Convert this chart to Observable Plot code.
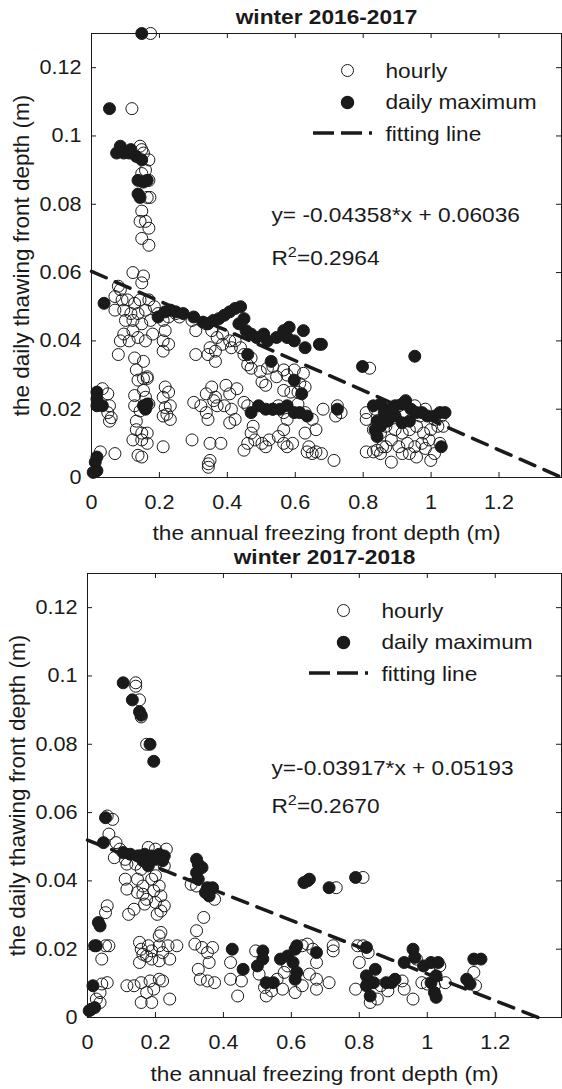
<!DOCTYPE html>
<html><head><meta charset="utf-8">
<script src="https://cdn.jsdelivr.net/npm/d3@7"></script>
<script src="https://cdn.jsdelivr.net/npm/@observablehq/plot@0.6"></script>
<style>body{margin:0;background:#fff} svg{display:block}</style>
</head><body><div id="chart"></div>
<script>
const xTicks = [0,0.2,0.4,0.6,0.8,1,1.2];
const xTickLabels = ["0","0.2","0.4","0.6","0.8","1","1.2"];
const yTicks = [0,0.02,0.04,0.06,0.08,0.1,0.12];
const yTickLabels = ["0","0.02","0.04","0.06","0.08","0.1","0.12"];
const titles = ["winter 2016-2017","winter 2017-2018"];
const xLabel = "the annual freezing front depth (m)";
const yLabel = "the daily thawing front depth (m)";
const legendLabels = ["hourly","daily maximum","fitting line"];
const slopes = [-0.04358,-0.03917];
const intercepts = [0.06036,0.05193];
const equations = ["y= -0.04358*x + 0.06036","y=-0.03917*x + 0.05193"];
const r2Labels = ["R²=0.2964","R²=0.2670"];
const fitXEnd = [1.385,1.326];
const xMax = [1.384,1.395];

const hourly1617 = [[0.174,0.130],[0.119,0.108],[0.143,0.097],[0.148,0.096],[0.153,0.095],[0.169,0.093],[0.159,0.090],[0.148,0.089],[0.169,0.087],[0.164,0.082],[0.172,0.082],[0.148,0.078],[0.143,0.075],[0.159,0.075],[0.169,0.073],[0.148,0.070],[0.169,0.068],[0.122,0.060],[0.153,0.059],[0.148,0.057],
[0.079,0.056],[0.085,0.055],[0.069,0.053],[0.090,0.052],[0.106,0.052],[0.127,0.051],[0.143,0.052],[0.169,0.052],[0.069,0.049],[0.095,0.049],[0.116,0.048],[0.137,0.048],[0.159,0.049],[0.185,0.050],[0.196,0.048],[0.100,0.046],[0.122,0.046],[0.148,0.045],[0.174,0.046],[0.095,0.042],[0.122,0.043],[0.137,0.041],[0.159,0.040],[0.180,0.042],[0.111,0.040],[0.085,0.040],[0.079,0.036],[0.127,0.035],[0.153,0.034],[0.132,0.0315],[0.153,0.029],[0.137,0.0285],[0.164,0.0295],
[0.211,0.046],[0.227,0.047],[0.248,0.048],[0.259,0.047],[0.217,0.043],[0.211,0.040],[0.227,0.039],[0.211,0.037],[0.296,0.046],[0.307,0.043],[0.307,0.036],
[0.338,0.045],[0.354,0.043],[0.370,0.041],[0.386,0.042],[0.349,0.038],[0.365,0.037],[0.343,0.036],[0.365,0.034],[0.386,0.039],[0.407,0.040],[0.423,0.040],[0.412,0.038],[0.439,0.038],[0.449,0.036],[0.460,0.033],[0.470,0.035],[0.470,0.032],[0.497,0.031],[0.518,0.032],[0.534,0.0325],[0.502,0.028],[0.513,0.027],[0.545,0.0295],[0.566,0.0315],[0.576,0.030],[0.597,0.0315],[0.624,0.0305],[0.613,0.0275],[0.566,0.0255],[0.587,0.025],[0.608,0.025],[0.629,0.0265],
[0.301,0.022],[0.322,0.021],[0.338,0.019],[0.343,0.017],[0.360,0.0225],[0.370,0.021],[0.354,0.0265],[0.338,0.0245],[0.365,0.0235],[0.396,0.027],[0.428,0.026],[0.407,0.0245],[0.391,0.021],[0.412,0.020],[0.423,0.017],[0.407,0.016],[0.449,0.022],[0.460,0.021],[0.476,0.015],[0.470,0.013],[0.460,0.010],[0.449,0.008],[0.481,0.011],[0.502,0.010],[0.523,0.011],[0.513,0.009],[0.534,0.020],[0.550,0.021],[0.566,0.019],[0.576,0.017],[0.566,0.014],[0.550,0.012],[0.566,0.010],[0.576,0.009],[0.592,0.010],[0.608,0.0215],[0.629,0.019],[0.650,0.017],[0.661,0.014],[0.629,0.013],[0.640,0.009],[0.635,0.0075],[0.650,0.007],[0.661,0.0075],[0.677,0.007],[0.714,0.005],[0.682,0.020],[0.719,0.018],[0.724,0.021],[0.735,0.019],[0.344,0.004],[0.344,0.003],[0.349,0.005],[0.296,0.011],[0.349,0.010],[0.381,0.010],[0.211,0.009],
[0.032,0.026],[0.048,0.0245],[0.053,0.021],[0.048,0.019],[0.053,0.0165],[0.058,0.0175],[0.026,0.0075],[0.069,0.007],[0.127,0.021],[0.132,0.0165],[0.132,0.014],[0.122,0.011],[0.148,0.013],[0.148,0.011],[0.164,0.013],[0.164,0.010],[0.137,0.0065],[0.148,0.006],[0.164,0.029],[0.153,0.0255],[0.159,0.0235],[0.169,0.0215],[0.143,0.0195],[0.217,0.0265],[0.227,0.025],[0.211,0.0235],[0.232,0.021],[0.217,0.0205],[0.211,0.018],[0.232,0.017],[0.222,0.0185],[0.127,0.024],
[0.809,0.019],[0.809,0.017],[0.809,0.0075],[0.841,0.008],[0.851,0.007],[0.867,0.009],[0.883,0.0045],[0.883,0.011],[0.905,0.009],[0.915,0.007],[0.930,0.010],[0.936,0.007],[0.952,0.009],[0.957,0.006],[0.973,0.010],[0.983,0.0085],[0.999,0.005],[0.994,0.011],[1.010,0.007],[1.026,0.010],[0.830,0.014],[0.851,0.013],[0.867,0.015],[0.894,0.014],[0.915,0.013],[0.936,0.014],[0.957,0.015],[0.978,0.013],[0.999,0.014],[1.020,0.015],[1.036,0.015],[0.883,0.018],[0.925,0.019],[0.967,0.018],[1.010,0.017],[1.030,0.018],[0.952,0.021],[0.983,0.020],[0.835,0.020],[0.905,0.021],[0.830,0.0075],[0.857,0.009],[0.819,0.032]];

const daily1617 = [[0.148,0.130],[0.053,0.108],[0.085,0.097],[0.095,0.095],[0.111,0.095],[0.132,0.094],[0.148,0.093],[0.116,0.096],[0.074,0.095],[0.137,0.087],[0.153,0.0865],[0.164,0.087],[0.143,0.082],[0.137,0.083],
[0.037,0.051],[0.016,0.002],[0.011,0.0045],[0.016,0.006],[0.005,0.0015],[0.016,0.025],[0.016,0.021],[0.032,0.021],[0.016,0.023],
[0.153,0.021],[0.164,0.0215],[0.159,0.020],
[0.196,0.047],[0.217,0.0485],[0.233,0.049],[0.248,0.0485],[0.270,0.048],[0.301,0.047],[0.328,0.0455],[0.343,0.045],[0.359,0.046],[0.375,0.0465],[0.391,0.0475],[0.407,0.0485],[0.423,0.0495],[0.439,0.050],[0.449,0.0465],[0.434,0.045],[0.455,0.043],[0.470,0.042],[0.460,0.036],[0.486,0.041],[0.507,0.042],[0.518,0.040],[0.529,0.034],[0.545,0.041],[0.566,0.043],[0.582,0.044],[0.576,0.041],[0.597,0.040],[0.624,0.043],[0.629,0.038],[0.671,0.039],[0.677,0.039],[0.597,0.0285],[0.619,0.0245],[0.798,0.0325],[0.952,0.0355],
[0.470,0.019],[0.492,0.021],[0.513,0.020],[0.534,0.020],[0.555,0.020],[0.576,0.021],[0.597,0.019],[0.613,0.019],[0.635,0.018],[0.724,0.020],
[0.830,0.021],[0.851,0.0215],[0.872,0.020],[0.894,0.021],[0.915,0.0215],[0.925,0.0225],[0.941,0.020],[0.957,0.019],[0.973,0.019],[0.989,0.018],[1.010,0.018],[1.026,0.019],[1.041,0.019],[0.841,0.0165],[0.835,0.014],[0.841,0.012],[0.851,0.015],[0.872,0.0165],[0.894,0.018],[0.915,0.016],[0.936,0.0165],[1.030,0.009],[0.862,0.019],[0.883,0.019]];

const hourly1718 = [[0.142,0.098],[0.142,0.097],[0.153,0.093],[0.158,0.088],[0.174,0.080],
[0.074,0.058],[0.063,0.0537],[0.058,0.059],[0.084,0.0512],[0.095,0.0493],[0.079,0.0468],[0.111,0.0463],[0.116,0.0449],[0.111,0.0405],[0.116,0.0376],[0.121,0.0302],[0.153,0.0473],[0.142,0.0449],[0.158,0.0434],[0.147,0.0405],[0.163,0.0385],[0.147,0.0366],[0.163,0.0361],[0.137,0.0317],[0.168,0.0332],[0.174,0.0346],[0.189,0.0405],[0.200,0.0415],[0.195,0.0371],[0.211,0.0385],[0.216,0.0356],[0.200,0.0337],[0.216,0.0312],[0.226,0.0327],[0.205,0.0302],[0.226,0.0444],[0.232,0.0493],[0.179,0.0498],[0.200,0.0493],[0.211,0.0239],[0.216,0.0249],
[0.058,0.0327],[0.053,0.0307],[0.053,0.021],[0.063,0.021],[0.042,0.0171],[0.042,0.0098],[0.058,0.0102],[0.037,0.0073],[0.037,0.0044],[0.026,0.0054],
[0.153,0.022],[0.158,0.020],[0.163,0.0185],[0.153,0.0161],[0.179,0.021],[0.189,0.0195],[0.174,0.018],[0.189,0.0171],[0.211,0.021],[0.221,0.019],[0.237,0.021],[0.242,0.0171],[0.263,0.021],[0.211,0.0166],
[0.116,0.0093],[0.137,0.0093],[0.158,0.0102],[0.174,0.0073],[0.158,0.0044],[0.189,0.0044],[0.184,0.0107],[0.211,0.0112],[0.221,0.0107],[0.242,0.0054],[0.195,0.0083],
[0.321,0.0254],[0.342,0.0293],[0.316,0.0215],[0.337,0.0205],[0.353,0.019],[0.368,0.0205],[0.358,0.0161],[0.326,0.0141],[0.332,0.0112],[0.353,0.0107],[0.374,0.0102],[0.321,0.0385],[0.374,0.0346],[0.305,0.039],
[0.421,0.0161],[0.421,0.0112],[0.442,0.0063],[0.453,0.0107],[0.495,0.0195],[0.505,0.0127],[0.521,0.0088],[0.526,0.0063],[0.542,0.0078],[0.558,0.0112],[0.574,0.0083],[0.579,0.0132],[0.589,0.0151],[0.611,0.0073],[0.632,0.0093],[0.632,0.021],[0.647,0.0215],[0.663,0.020],[0.674,0.0161],[0.674,0.0083],[0.711,0.0102],[0.723,0.021],[0.723,0.0195],[0.732,0.038],[0.811,0.041],[0.653,0.0127],[0.674,0.0112],
[0.789,0.0083],[0.795,0.021],[0.800,0.0161],[0.826,0.019],[0.832,0.0044],[0.853,0.0054],[0.884,0.0078],[0.932,0.0083],[0.958,0.0054],[0.984,0.0102],[1.000,0.0098],[1.005,0.0146],[1.037,0.0151],[1.053,0.0102],[1.137,0.0132],[1.142,0.0093],[0.811,0.021],[0.826,0.0107],[0.863,0.0093],[0.926,0.0107],[1.021,0.0093],[0.968,0.0171]];

const daily1718 = [[0.105,0.098],[0.132,0.093],[0.153,0.0895],[0.158,0.0885],[0.184,0.080],[0.195,0.075],
[0.053,0.0585],[0.047,0.0512],[0.032,0.0278],[0.037,0.0268],[0.021,0.021],[0.026,0.021],[0.016,0.0093],[0.011,0.0024],[0.021,0.0029],[0.005,0.002],
[0.105,0.0483],[0.126,0.0478],[0.147,0.0473],[0.168,0.0478],[0.189,0.0473],[0.211,0.0478],[0.226,0.0473],[0.163,0.0459],[0.200,0.0463],[0.221,0.0459],[0.179,0.0444],
[0.321,0.0463],[0.326,0.0449],[0.337,0.0439],[0.321,0.0424],[0.326,0.0405],[0.353,0.038],[0.368,0.038],[0.347,0.0366],[0.358,0.0356],
[0.637,0.0395],[0.647,0.040],[0.653,0.0405],[0.711,0.038],[0.789,0.041],
[0.426,0.020],[0.458,0.0141],[0.516,0.0195],[0.516,0.0171],[0.500,0.0151],[0.526,0.0102],[0.547,0.0102],[0.568,0.0171],[0.589,0.018],[0.611,0.020],[0.616,0.021],[0.605,0.0161],[0.616,0.0132],[0.611,0.0112],[0.674,0.019],[0.821,0.0205],[0.821,0.0122],[0.821,0.0093],[0.832,0.0063],[0.847,0.0141],[0.842,0.0102],[0.879,0.0102],[0.905,0.0112],[0.932,0.0161],[0.958,0.020],[0.963,0.0176],[0.989,0.0151],[1.011,0.0161],[1.032,0.0161],[1.011,0.0102],[1.021,0.0073],[1.026,0.0059],[1.116,0.0112],[1.126,0.0098],[1.137,0.0171],[1.158,0.0171],[0.895,0.0102],[1.026,0.0122]];

const INK = "#1a1a1a";
const FONT = "'Liberation Sans', Arial, Helvetica, sans-serif";

function panel(i, hourly, daily, o) {
  const W = 562, H = o.height;
  const fw = W - o.ml - o.mr, fh = H - o.mt - o.mb;
  const fit = [0, fitXEnd[i]].map(x => ({x, y: slopes[i] * x + intercepts[i]}));
  const legendDash = (index, scales, values, dims) => {
    return d3.create("svg:line")
      .attr("x1", dims.marginLeft + 222).attr("x2", dims.marginLeft + 281)
      .attr("y1", dims.marginTop + 100).attr("y2", dims.marginTop + 100)
      .attr("stroke", INK).attr("stroke-width", 3.5)
      .attr("stroke-dasharray", "21,7").node();
  };
  return Plot.plot({
    width: W, height: H,
    marginLeft: o.ml, marginRight: o.mr, marginTop: o.mt, marginBottom: o.mb,
    style: {fontFamily: FONT, fontSize: "20px", color: INK, background: "#fff", overflow: "visible"},
    x: {domain: [0, xMax[i]]},
    y: {domain: [0, 0.13]},
    marks: [
      Plot.dot(hourly, {x: d => d[0], y: d => d[1], r: 6, stroke: INK, strokeWidth: 1, fill: "none"}),
      Plot.dot(daily, {x: d => d[0], y: d => d[1], r: 6, fill: INK, stroke: INK, strokeWidth: 1}),
      Plot.line(fit, {x: "x", y: "y", stroke: INK, strokeWidth: 3.5, strokeDasharray: "16,10"}),
      Plot.frame({stroke: INK, strokeWidth: 1}),
      Plot.tickX(xTicks, {x: d => d, insetTop: fh - 5, stroke: INK}),
      Plot.tickX(xTicks, {x: d => d, insetBottom: fh - 5, stroke: INK}),
      Plot.tickY(yTicks, {y: d => d, insetRight: fw - 5, stroke: INK}),
      Plot.tickY(yTicks, {y: d => d, insetLeft: fw - 5, stroke: INK}),
      Plot.axisX({ticks: xTicks, tickFormat: d => xTickLabels[xTicks.indexOf(d)], tickSize: 0, tickPadding: 17, label: null, fontSize: 20}),
      Plot.axisY({ticks: yTicks, tickFormat: d => yTickLabels[yTicks.indexOf(d)], tickSize: 0, tickPadding: 10, label: null, fontSize: 20}),
      Plot.text([titles[i]], {text: d => d, frameAnchor: "top", dy: -10, lineAnchor: "bottom", textAnchor: "middle", fontWeight: "bold", fontSize: 21, fill: INK}),
      Plot.text([xLabel], {text: d => d, frameAnchor: "bottom", dy: o.xlab, lineAnchor: "bottom", textAnchor: "middle", fontSize: 21, fill: INK}),
      Plot.text([yLabel], {text: d => d, frameAnchor: "left", dx: -63, rotate: -90, lineAnchor: "bottom", textAnchor: "middle", fontSize: 22.5, fill: INK}),
      Plot.dot([0], {frameAnchor: "top-left", dx: 256, dy: 37, r: 6, stroke: INK, fill: "none", strokeWidth: 1}),
      Plot.dot([0], {frameAnchor: "top-left", dx: 256, dy: 69, r: 6, fill: INK, stroke: INK}),
      legendDash,
      Plot.text([legendLabels[0]], {text: d => d, frameAnchor: "top-left", dx: 294, dy: 44, lineAnchor: "bottom", textAnchor: "start", fontSize: 21, fill: INK}),
      Plot.text([legendLabels[1]], {text: d => d, frameAnchor: "top-left", dx: 294, dy: 75, lineAnchor: "bottom", textAnchor: "start", fontSize: 21, fill: INK}),
      Plot.text([legendLabels[2]], {text: d => d, frameAnchor: "top-left", dx: 294, dy: 107, lineAnchor: "bottom", textAnchor: "start", fontSize: 21, fill: INK}),
      Plot.text([equations[i]], {text: d => d, frameAnchor: "top-left", dx: 271 - o.ml, dy: o.eq, lineAnchor: "bottom", textAnchor: "start", fontSize: 21, fill: INK}),
      Plot.text([r2Labels[i]], {text: d => d, frameAnchor: "top-left", dx: 271 - o.ml, dy: o.r2, lineAnchor: "bottom", textAnchor: "start", fontSize: 21, fill: INK, className: "r2label"})
    ]
  });
}

const root = document.getElementById("chart");
const p1 = panel(0, hourly1617, daily1617, {height: 545, ml: 91, mr: 1, mt: 33, mb: 68, xlab: 62, eq: 188, r2: 231});
const p2 = panel(1, hourly1718, daily1718, {height: 544, ml: 87, mr: 1, mt: 28, mb: 72, xlab: 63, eq: 201, r2: 239});
root.append(p1, p2);

// R² with a real superscript 2
const NS = "http://www.w3.org/2000/svg";
root.querySelectorAll("text").forEach(t => {
  const s = t.textContent;
  if (!s.startsWith("R²")) return;
  const [a, b] = s.split("²");
  t.textContent = "";
  const t1 = document.createElementNS(NS, "tspan"); t1.textContent = a;
  const t2 = document.createElementNS(NS, "tspan"); t2.textContent = "2";
  t2.setAttribute("dy", "-8"); t2.setAttribute("font-size", "15");
  const t3 = document.createElementNS(NS, "tspan"); t3.textContent = b;
  t3.setAttribute("dy", "8");
  t.append(t1, t2, t3);
});

// the reference figure is slightly widened horizontally: stretch horizontal texts
const STRETCH = 1.08;
root.querySelectorAll("text").forEach(t => {
  const tr = t.getAttribute("transform") || "";
  if (tr.includes("rotate")) return;
  const len = t.getComputedTextLength();
  if (len > 0) {
    t.setAttribute("textLength", (len * STRETCH).toFixed(1));
    t.setAttribute("lengthAdjust", "spacingAndGlyphs");
  }
});
</script>
</body></html>
